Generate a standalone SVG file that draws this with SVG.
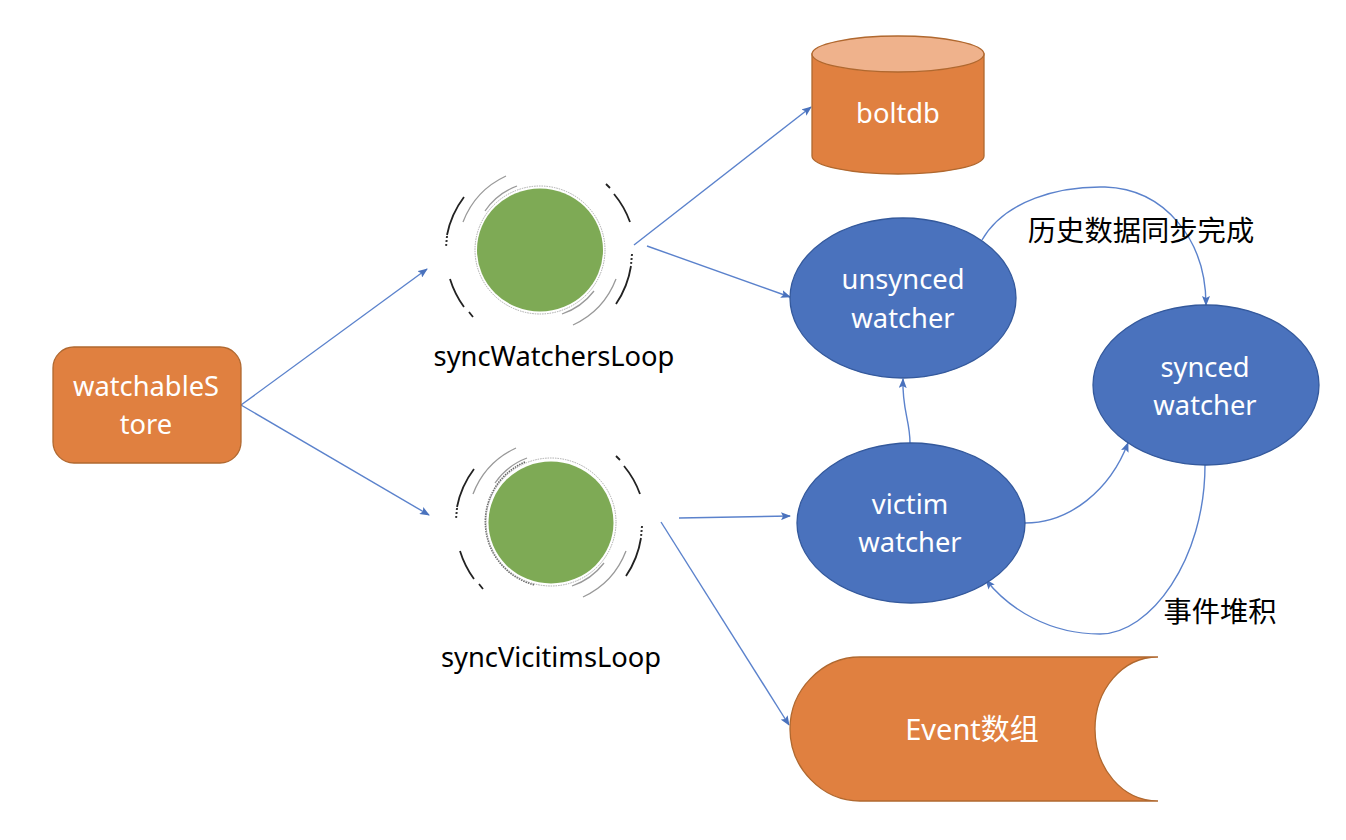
<svg xmlns="http://www.w3.org/2000/svg" width="1346" height="840" viewBox="0 0 1346 840">
<style>
text{font-family:"Noto Sans","Noto Sans CJK SC",sans-serif;font-size:27.3px;text-anchor:middle}
.w{fill:#fff}.k{fill:#000}
.o{fill:#e08040;stroke:#b0682f;stroke-width:1.3}
.b{fill:#4a72bd;stroke:#34599c;stroke-width:1.3}
.g{fill:#7eaa55}
.c{fill:none;stroke:#5b82cc;stroke-width:1.4;marker-end:url(#a)}
.d{fill:none;stroke:#222;stroke-width:1.8}
.dt{fill:none;stroke:#333;stroke-width:2;stroke-dasharray:2 2}
.m{fill:none;stroke:#999;stroke-width:1.3}
.r{fill:none;stroke:#aaa;stroke-width:1;stroke-dasharray:1.5 1}
.cj{font-size:28.3px}
</style>
<defs>
<marker id="a" markerWidth="10" markerHeight="8" refX="9" refY="4" orient="auto" markerUnits="userSpaceOnUse"><path d="M0 0L10 4L0 8L2 4Z" fill="#4a72bd"/></marker>
<g id="arcs">
<path class="d" d="M-76-53A93 93 0 0 0-93-15"/>
<path class="dt" d="M-93-14L-94-3"/>
<path class="d" d="M66-66L70-62M74-56A93 93 0 0 1 90-28"/>
<path class="dt" d="M92 4L91 15"/>
<path class="d" d="M91 16A93 93 0 0 1 76 54"/>
<path class="d" d="M-90 29A95 95 0 0 0-76 57M-71 62L-67 67"/>
<path class="m" d="M-77-28A84 84 0 0 1-34-74M33 75A84 84 0 0 0 76 29"/>
<path class="m" d="M-55-39A68 68 0 0 1-23-64M22 64A68 68 0 0 0 54 41"/>
</g>
</defs>
<g id="connectors">
<path class="c" d="M241 405L427 269"/>
<path class="c" d="M241 405L429 515"/>
<path class="c" d="M634 245L811 107"/>
<path class="c" d="M647 246L790 297"/>
<path class="c" d="M679 518L790 516"/>
<path class="c" d="M661 522L789 725"/>
<path class="c" d="M910 443C910 420 902 410 903 379"/>
<path class="c" d="M982 240C1005 200 1060 186 1105 187C1165 189 1206 240 1206 305"/>
<path class="c" d="M1025 523C1070 523 1110 490 1128 443"/>
<path class="c" d="M1205 465C1205 560 1150 634 1100 634C1050 634 1010 610 986 580"/>
</g>
<g id="watchableStore">
<rect class="o" x="53" y="347" width="188" height="116" rx="21"/>
<text class="w" x="146" y="396">watchableS</text>
<text class="w" x="146" y="434">tore</text>
</g>
<g id="boltdb">
<path class="o" d="M812 54V156A86 18 0 0 0 984 156V54Z"/>
<ellipse cx="898" cy="54" rx="86" ry="18" fill="#efb28c" stroke="#b0682f" stroke-width="1.3"/>
<text class="w" x="898" y="123">boltdb</text>
</g>
<g id="syncWatchersLoop">
<ellipse class="g" cx="540" cy="250" rx="63" ry="61.5"/>
<ellipse class="r" cx="540" cy="250" rx="65" ry="64"/>
<use href="#arcs" x="540" y="250"/>
<text class="k" x="554" y="366">syncWatchersLoop</text>
</g>
<g id="syncVicitimsLoop">
<ellipse class="g" cx="551" cy="522.5" rx="62.5" ry="61"/>
<path fill="none" stroke="#666" stroke-width="1.6" stroke-dasharray="1.5 1" d="M525 462A65 65 0 0 0 535 585"/>
<ellipse class="r" cx="551" cy="522" rx="65" ry="64"/>
<use href="#arcs" x="550" y="522"/>
<text class="k" x="551" y="667">syncVicitimsLoop</text>
</g>
<g id="unsynced">
<ellipse class="b" cx="903" cy="298" rx="113" ry="80"/>
<text class="w" x="903" y="289">unsynced</text>
<text class="w" x="903" y="328">watcher</text>
</g>
<g id="synced">
<ellipse class="b" cx="1206" cy="385" rx="113" ry="80"/>
<text class="w" x="1205" y="377">synced</text>
<text class="w" x="1205" y="415">watcher</text>
</g>
<g id="victim">
<ellipse class="b" cx="911" cy="523" rx="114" ry="80"/>
<text class="w" x="910" y="514">victim</text>
<text class="w" x="910" y="552">watcher</text>
</g>
<g id="event">
<path class="o" d="M860 657H1158C1122 657 1095 690 1095 729C1095 768 1122 801 1158 801H860C822 801 790 768 790 729C790 690 822 657 860 657Z"/>
<text class="w" x="972" y="740" style="font-size:29px">Event数组</text>
</g>
<g id="labels">
<text class="k cj" x="1141" y="241">历史数据同步完成</text>
<text class="k cj" x="1220" y="622">事件堆积</text>
</g>
</svg>
